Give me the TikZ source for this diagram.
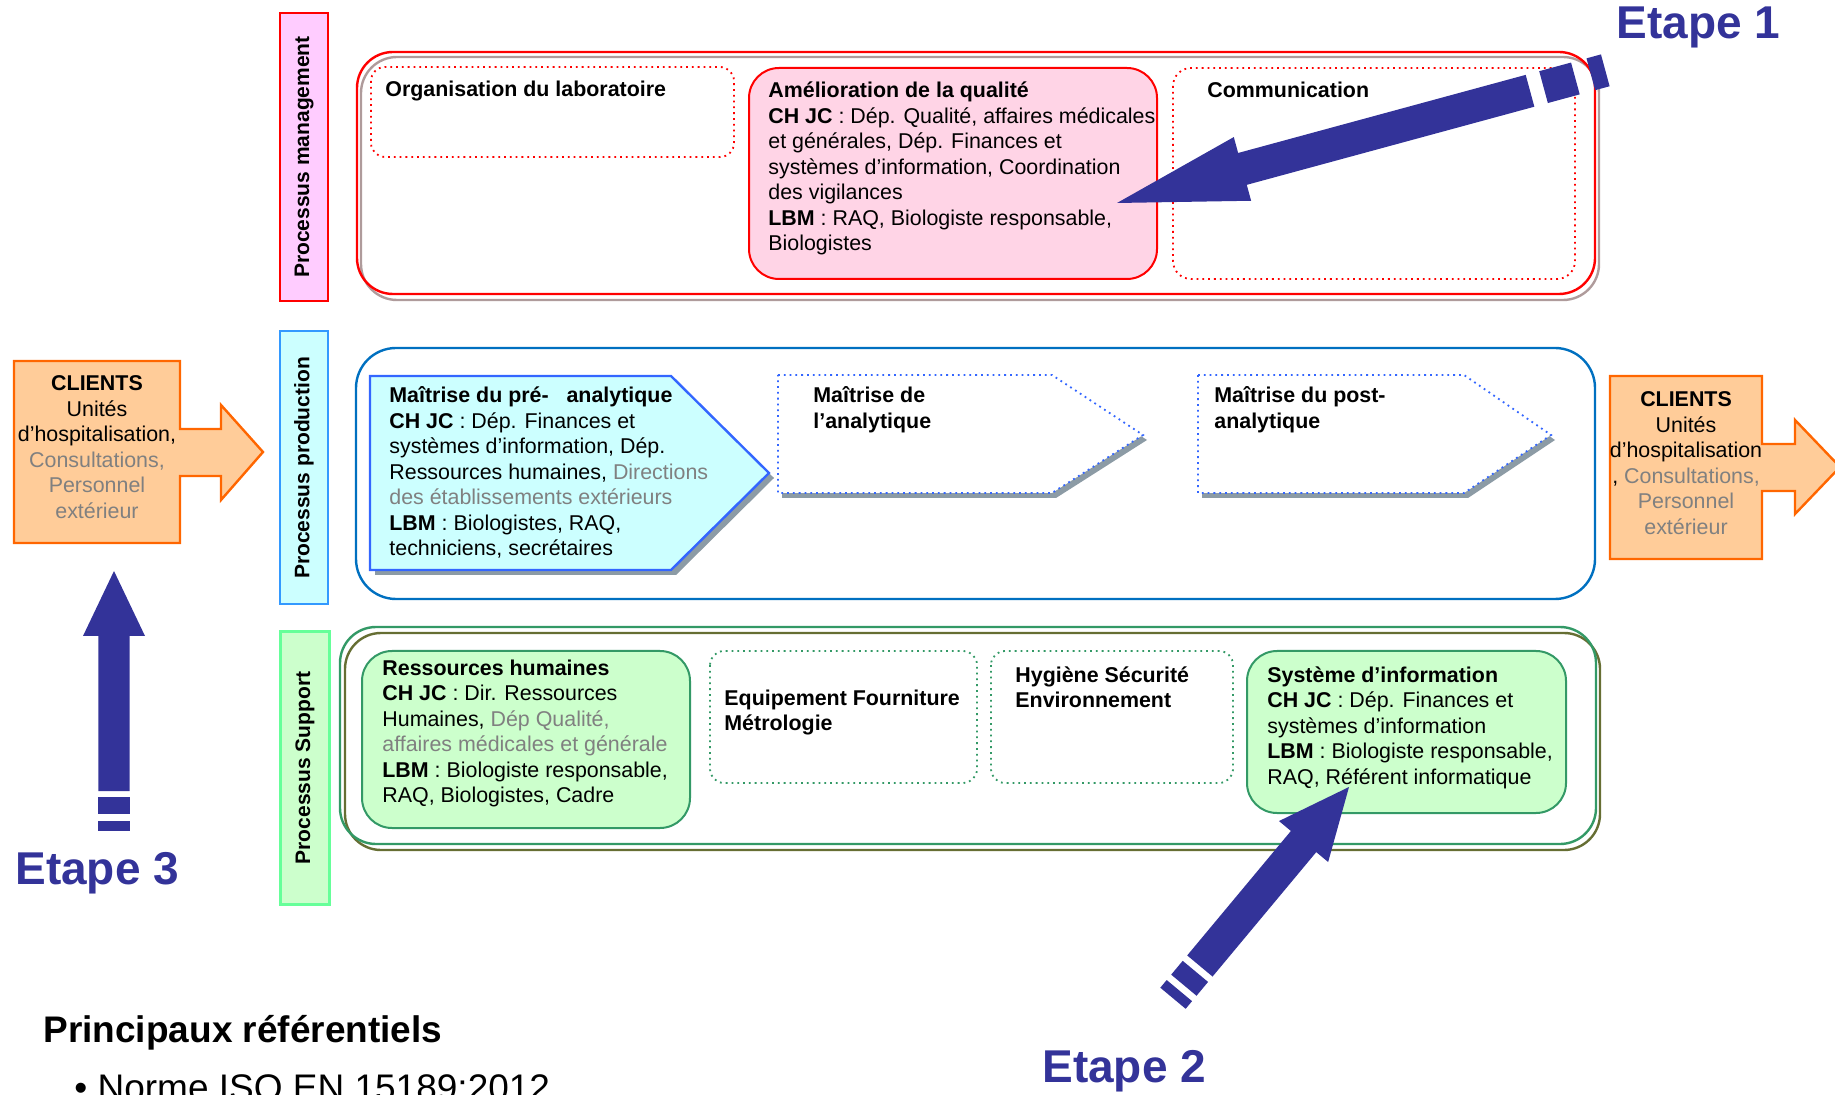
\documentclass[tikz,border=0pt]{standalone}
\usepackage{fontspec}
\setmainfont{Liberation Sans}
\usepackage{xcolor}
\usepackage{tikz}
\definecolor{etapeblue}{RGB}{51,51,153}
\definecolor{mgred}{RGB}{255,0,0}
\definecolor{mgpink}{RGB}{255,204,255}
\definecolor{qualpink}{RGB}{255,212,230}
\definecolor{mgshadow}{RGB}{175,155,155}
\definecolor{prodblue}{RGB}{0,112,192}
\definecolor{labblue}{RGB}{51,153,255}
\definecolor{chevblue}{RGB}{51,102,255}
\definecolor{lightcyan}{RGB}{204,255,255}
\definecolor{chevshadow}{RGB}{140,155,165}
\definecolor{suppgreen}{RGB}{51,153,102}
\definecolor{suppshadow}{RGB}{102,110,51}
\definecolor{labgreen}{RGB}{102,255,153}
\definecolor{lightgreen}{RGB}{204,255,204}
\definecolor{clientorange}{RGB}{255,102,0}
\definecolor{clientfill}{RGB}{255,204,153}
\definecolor{greytext}{RGB}{128,128,128}
\newcommand{\gtxt}[1]{\textcolor{greytext}{#1}}

\begin{document}
\begin{tikzpicture}[x=0.5pt,y=-0.5pt,
  txt/.style={anchor=base west,align=left,inner sep=0pt,font=\fontsize{10.7}{12.75}\selectfont},
  btxt/.style={txt,font=\fontsize{10.7}{12.75}\selectfont\bfseries},
  ctxt/.style={anchor=base,align=center,inner sep=0pt,font=\fontsize{10.7}{12.75}\selectfont},
  vlabel/.style={rotate=90,inner sep=0pt,font=\fontsize{10.5}{12}\selectfont\bfseries},
  etape/.style={anchor=base west,inner sep=0pt,text=etapeblue,font=\fontsize{23}{27}\selectfont\bfseries},
  dotbox/.style={dotted,line width=0.9pt,rounded corners=7pt}]
\useasboundingbox (0,0) rectangle (1835,1095);

% Process labels on the left
\draw[mgred,line width=1.2pt,fill=mgpink] (280,13) rectangle (328,301);
\node[vlabel] (mgmt) at (304,157) {Processus management};
\draw[labblue,line width=1.2pt,fill=lightcyan] (280,331) rectangle (328,604);
\node[vlabel] (prod) at (304,468) {Processus production};
\draw[labgreen,line width=1.5pt,fill=lightgreen] (280,632) rectangle (329,904);
\node[vlabel] (supp) at (305,768) {Processus Support};

% Management box (base of a multi-line node = its last line)
\draw[mgshadow,line width=1.2pt,rounded corners=18pt] (361,57) rectangle (1599,300);
\draw[mgred,line width=1.2pt,rounded corners=18pt] (357,52) rectangle (1595,294);
\draw[mgred,dotbox] (371,67) rectangle (734,157);
\node[btxt] (orga) at (385,97) {Organisation du laboratoire};
\draw[mgred,line width=1pt,fill=qualpink,rounded corners=15pt] (749,68) rectangle (1157,279);
\node[txt] (qualite) at (768,251) {\textbf{Amélioration de la qualité}\\
  \textbf{CH JC} : Dép. Qualité, affaires médicales\\
  et générales, Dép. Finances et\\
  systèmes d’information, Coordination\\
  des vigilances\\
  \textbf{LBM} : RAQ, Biologiste responsable,\\
  Biologistes};
\draw[mgred,dotbox,rounded corners=9pt] (1173,68) rectangle (1575,279);
\node[btxt] (comm) at (1207,98) {Communication};

% Production box
\draw[prodblue,line width=1.2pt,rounded corners=20pt] (356,348) rectangle (1595,599);
\fill[chevshadow] (375,381) -- (676,381) -- (774,478) -- (676,575) -- (375,575) -- cycle;
\draw[chevblue,line width=1.2pt,fill=lightcyan] (370,376) -- (671,376) -- (769,473) -- (671,570) -- (370,570) -- cycle;
\node[txt] (preana) at (389,556) {\textbf{Maîtrise du pré-\ \ \ analytique}\\
  \textbf{CH JC} : Dép. Finances et\\
  systèmes d’information, Dép.\\
  Ressources humaines, \gtxt{Directions}\\
  \gtxt{des établissements extérieurs}\\
  \textbf{LBM} : Biologistes, RAQ,\\
  techniciens, secrétaires};
\fill[chevshadow] (782,380) -- (1056,380) -- (1147,440) -- (1056,498) -- (782,498) -- cycle;
\draw[chevblue,dotted,line width=0.9pt,fill=white] (778,375) -- (1052,375) -- (1143,435) -- (1052,493) -- (778,493) -- cycle;
\node[btxt] (ana) at (813,428.5) {Maîtrise de\\l’analytique};
\fill[chevshadow] (1202,380) -- (1468,380) -- (1555,440) -- (1468,498) -- (1202,498) -- cycle;
\draw[chevblue,dotted,line width=0.9pt,fill=white] (1198,375) -- (1464,375) -- (1551,435) -- (1464,493) -- (1198,493) -- cycle;
\node[btxt] (postana) at (1214,428.5) {Maîtrise du post-\\analytique};

% Support box
\draw[suppshadow,line width=1.2pt,rounded corners=18pt] (345,633) rectangle (1600,850);
\draw[suppgreen,line width=1.2pt,rounded corners=18pt] (340,627) rectangle (1596,844);
\draw[suppgreen,line width=1pt,fill=lightgreen,rounded corners=15pt] (362,651) rectangle (690,828);
\node[txt] (rh) at (382,802.5) {\textbf{Ressources humaines}\\
  \textbf{CH JC} : Dir. Ressources\\
  Humaines, \gtxt{Dép Qualité,}\\
  \gtxt{affaires médicales et générale}\\
  \textbf{LBM} : Biologiste responsable,\\
  RAQ, Biologistes, Cadre};
\draw[suppgreen,dotbox] (710,651) rectangle (977,783);
\node[btxt] (equip) at (724,730.5) {Equipement Fourniture\\Métrologie};
\draw[suppgreen,dotbox] (991,651) rectangle (1233,783);
\node[btxt] (hyg) at (1015,707.5) {Hygiène Sécurité\\Environnement};
\draw[suppgreen,line width=1pt,fill=lightgreen,rounded corners=15pt] (1247,651) rectangle (1566,813);
\node[txt] (si) at (1267,784) {\textbf{Système d’information}\\
  \textbf{CH JC} : Dép. Finances et\\
  systèmes d’information\\
  \textbf{LBM} : Biologiste responsable,\\
  RAQ, Référent informatique};

% Clients
\draw[clientorange,line width=1.2pt,fill=clientfill] (14,361) -- (180,361) -- (180,429) -- (221,429) -- (221,405) -- (263,452) -- (221,500) -- (221,476) -- (180,476) -- (180,543) -- (14,543) -- cycle;
\node[ctxt] (clientsl) at (97,518.5) {\textbf{CLIENTS}\\Unités\\d’hospitalisation,\\\gtxt{Consultations,}\\\gtxt{Personnel}\\\gtxt{extérieur}};
\draw[clientorange,line width=1.2pt,fill=clientfill] (1610,376) -- (1762,376) -- (1762,444) -- (1795,444) -- (1795,420) -- (1840,467) -- (1795,514) -- (1795,491) -- (1762,491) -- (1762,559) -- (1610,559) -- cycle;
\node[ctxt] (clientsr) at (1686,534.5) {\textbf{CLIENTS}\\Unités\\d’hospitalisation\\, \gtxt{Consultations,}\\\gtxt{Personnel}\\\gtxt{extérieur}};

% Etape arrows
\begin{scope}[shift={(1117,203)},rotate=15.2]
\fill[etapeblue] (0,0) -- (130,33) -- (130,16.5) -- (428,16.5) -- (428,-16.5) -- (130,-16.5) -- (130,-33) -- cycle;
\fill[etapeblue] (442,16.5) rectangle (475,-16.5);
\fill[etapeblue] (491,16.5) rectangle (506,-16.5);
\end{scope}
\begin{scope}[shift={(1349,787)},rotate=230.2]
\fill[etapeblue] (0,0) -- (71,32) -- (71,16.5) -- (233,16.5) -- (233,-16.5) -- (71,-16.5) -- (71,-32) -- cycle;
\fill[etapeblue] (240,16.5) rectangle (258,-16.5);
\fill[etapeblue] (265,16.5) rectangle (275,-16.5);
\end{scope}
\begin{scope}[shift={(114,571)},rotate=-90]
\fill[etapeblue] (0,0) -- (65,31) -- (65,15.6) -- (220,15.6) -- (220,-15.6) -- (65,-15.6) -- (65,-31) -- cycle;
\fill[etapeblue] (226,15.6) rectangle (243,-15.6);
\fill[etapeblue] (250,15.6) rectangle (260,-15.6);
\end{scope}
\node[etape] (etape1) at (1616,39) {Etape 1};
\node[etape] (etape2) at (1042,1082) {Etape 2};
\node[etape] (etape3) at (15,884) {Etape 3};

% References
\node[anchor=base west,inner sep=0pt,font=\fontsize{18.5}{22}\selectfont\bfseries] (refs) at (43,1042) {Principaux référentiels};
\node[anchor=base west,inner sep=0pt,font=\fontsize{18.5}{22}\selectfont] (iso) at (74,1100) {• Norme ISO EN 15189:2012};
\end{tikzpicture}
\end{document}
